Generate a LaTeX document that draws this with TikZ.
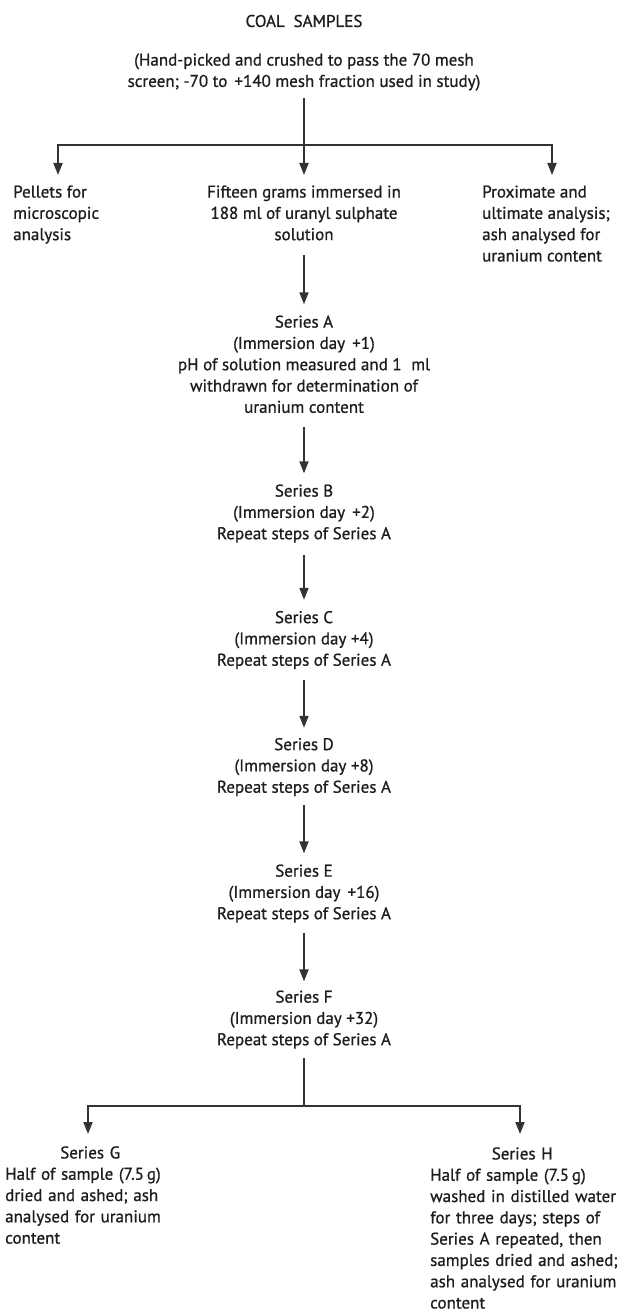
\documentclass[tikz,border=0pt]{standalone}
\usepackage{fontspec}
\setmainfont{PT Sans}[RawFeature={embolden=0.9}]
\usetikzlibrary{arrows.meta}
\definecolor{ink}{HTML}{1E1E1E}
\definecolor{rule}{HTML}{333333}
\tikzset{
  txt/.style={inner sep=0pt, text=ink, font=\fontsize{17}{21.3}\selectfont,
    execute at begin node=\strut, execute at end node=\strut},
  ctr/.style={txt, align=center, anchor=north},
  lft/.style={txt, align=left, anchor=north west},
  conn/.style={draw=rule, line width=1.8pt},
  arr/.style={conn, -{Triangle[width=9pt,length=12pt]}},
}
\begin{document}
\begin{tikzpicture}[x=1pt,y=-1pt]
\useasboundingbox (0,0) rectangle (629,1313);
% nodes
\node[inner sep=0pt, text=ink, font=\fontsize{17}{21.3}\selectfont] (coal) at (304,21) {COAL\hspace{0.25em} SAMPLES};
\node[ctr] (hand) at (304,53.3) {(Hand-picked and crushed to pass the 70 mesh\\screen; -70 to \hspace{0.15em}+140 mesh fraction used in study)};
\node[lft] (pel) at (13,185.3) {Pellets for\\microscopic\\analysis};
\node[ctr] (fif) at (304,185.3) {Fifteen grams immersed in\\188 ml of uranyl sulphate\\solution};
\node[lft] (pro) at (482,185.3) {Proximate and\\ultimate analysis;\\ash analysed for\\uranium content};
\node[ctr] (sa) at (304,315.3) {Series A\\(Immersion day \hspace{0.15em}+1)\\pH of solution measured and 1\hspace{0.3em} ml\\withdrawn for determination of\\uranium content};
\node[ctr] (sb) at (304,484.3) {Series B\\(Immersion day \hspace{0.15em}+2)\\Repeat steps of Series A};
\node[ctr] (sc) at (304,610.8) {Series C\\(Immersion day +4)\\Repeat steps of Series A};
\node[ctr] (sd) at (304,737.8) {Series D\\(Immersion day +8)\\Repeat steps of Series A};
\node[ctr] (se) at (304,864.3) {Series E\\(Immersion day \hspace{0.15em}+16)\\Repeat steps of Series A};
\node[ctr] (sf) at (304,990.3) {Series F\\(Immersion day +32)\\Repeat steps of Series A};
\node[lft, text width=200pt] (sg) at (5,1143.3) {\makebox[170pt][c]{Series G}\\Half of sample (7.5\,g)\\dried and ashed; ash\\analysed for uranium\\content};
\node[lft, text width=210pt] (sh) at (430,1144.3) {\makebox[184pt][c]{Series H}\\Half of sample (7.5\,g)\\washed in distilled water\\for three days; steps of\\Series A repeated, then\\samples dried and ashed;\\ash analysed for uranium\\content};
% junctions and arrow tips
\coordinate (j1) at (304,145);
\coordinate (tp) at (58,175);
\coordinate (tf) at (304,175);
\coordinate (tr) at (552,175);
\coordinate (j2) at (304,1106);
\coordinate (tg) at (88,1134);
\coordinate (th) at (520,1134);
% connectors
\draw[conn, shorten <=5pt] (hand) -- (j1);
\draw[arr] (j1) -| (tp);
\draw[arr] (j1) -| (tr);
\draw[arr] (j1) -- (tf);
\draw[arr, shorten <=8pt, shorten >=11pt] (fif) -- (sa);
\draw[arr, shorten <=8pt, shorten >=11pt] (sa) -- (sb);
\draw[arr, shorten <=9pt, shorten >=11pt] (sb) -- (sc);
\draw[arr, shorten <=8pt, shorten >=10pt] (sc) -- (sd);
\draw[arr, shorten <=6pt, shorten >=11pt] (sd) -- (se);
\draw[arr, shorten <=7pt, shorten >=9pt] (se) -- (sf);
\draw[conn, shorten <=6pt] (sf) -- (j2);
\draw[arr] (j2) -| (tg);
\draw[arr] (j2) -| (th);
\end{tikzpicture}
\end{document}
